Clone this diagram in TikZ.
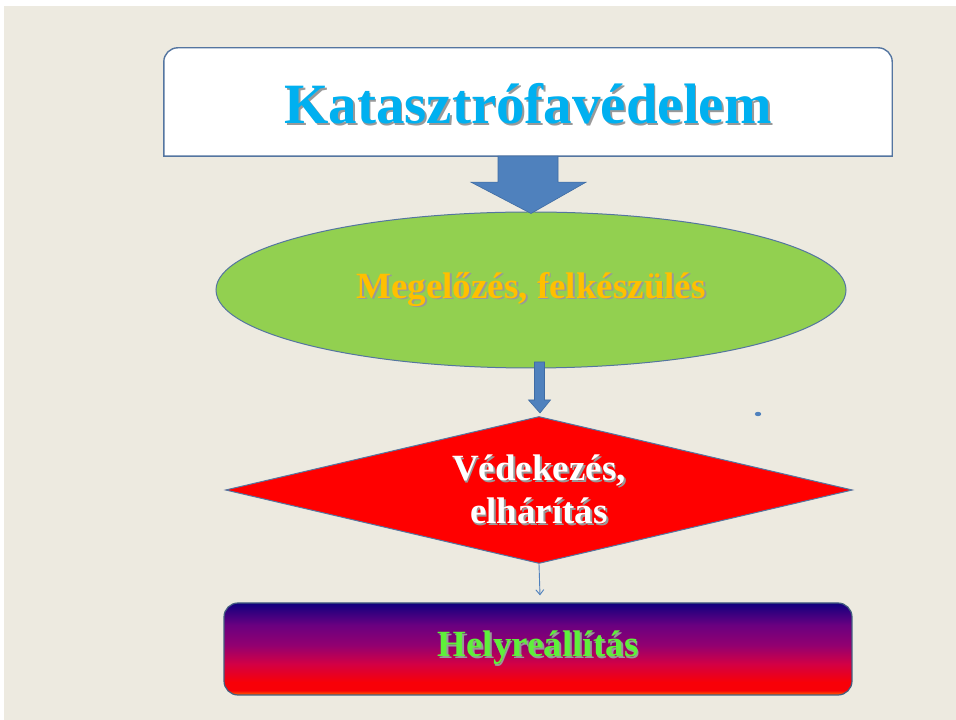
\documentclass[tikz,border=0pt]{standalone}
\usepackage{fontspec}
\setmainfont{Liberation Serif}
\usetikzlibrary{shapes.geometric,arrows.meta,calc}
\definecolor{bgbeige}{HTML}{EDEAE0}
\definecolor{boxline}{HTML}{5475A0}
\definecolor{titlecyan}{HTML}{00B0F0}
\definecolor{ellgreen}{HTML}{92D050}
\definecolor{goldtxt}{HTML}{FFC000}
\definecolor{arrblue}{HTML}{4F81BD}
\definecolor{arrdark}{HTML}{3F6CA3}
\definecolor{helygreen}{HTML}{5EF03A}
\definecolor{gnavy}{HTML}{10007F}
\definecolor{gpurp}{HTML}{6A0080}
\definecolor{gmag}{HTML}{930070}
\definecolor{gcrim}{HTML}{D20045}
\definecolor{gred}{HTML}{F80008}
\definecolor{gorange}{HTML}{FF6A00}
\pgfdeclareverticalshading{helyshade}{100bp}{color(0bp)=(gorange); color(25bp)=(gorange); color(27.5bp)=(gred); color(32bp)=(gred); color(42bp)=(gcrim); color(52bp)=(gmag); color(63bp)=(gpurp); color(75bp)=(gnavy); color(100bp)=(gnavy)}
\newcommand{\shtx}[2]{\makebox[0pt][l]{\kern1.8pt\raisebox{-1.8pt}{\textcolor{black!40}{#2}}}\textcolor{#1}{#2}}
\tikzset{
  outline/.style={draw=boxline, line width=1.4pt},
  blockarrow/.style={fill=arrblue, draw=arrdark, line width=0.6pt, line join=miter},
  bigtext/.style={font=\fontsize{37}{45}\selectfont\bfseries, align=center}
}
\begin{document}
\begin{tikzpicture}[x=1pt,y=1pt]
\useasboundingbox (0,0) rectangle (956,720);
\fill[white] (0,0) rectangle (956,720);
\fill[bgbeige] (4,0) rectangle (956,714);
% title box
\node[minimum width=728pt, minimum height=108pt, inner sep=0pt] (top) at (528,618) {};
\fill[white] (top.south west) -- ($(top.north west)+(0,-14)$) arc[start angle=180,end angle=90,radius=14]
  -- ($(top.north east)+(-14,0)$) arc[start angle=90,end angle=0,radius=14] -- (top.south east) -- cycle;
\draw[outline] (top.south west) -- ($(top.north west)+(0,-14)$) arc[start angle=180,end angle=90,radius=14]
  -- ($(top.north east)+(-14,0)$) arc[start angle=90,end angle=0,radius=14] -- (top.south east) -- cycle;
\node[font=\fontsize{57}{60}\selectfont\bfseries] (toptext) at (528,615) {\shtx{titlecyan}{Katasztrófavédelem}};
% ellipse
\node[ellipse, fill=ellgreen, draw=boxline, line width=1pt, minimum width=630pt, minimum height=156pt, inner sep=0pt, bigtext] (ell) at (531,430) {\shtx{goldtxt}{Megelőzés, felkészülés}};
% diamond
\node[diamond, aspect=4.27, fill=red, draw=boxline, line width=1pt, minimum width=627pt, minimum height=147pt, inner sep=0pt, bigtext] (dia) at (539,230) {\shtx{white}{Védekezés,}\\[-2pt]\shtx{white}{elhárítás}};
% bottom box
\node[rounded corners=14pt, shading=helyshade, draw=boxline!80!black, line width=1.2pt, minimum width=628pt, minimum height=92pt, inner sep=0pt, bigtext] (hely) at (538,71) {\shtx{helygreen}{Helyreállítás}};
% big block arrow (top box -> ellipse)
\draw[blockarrow] ($(top.south)+(-30,0)$) -- ($(top.south)+(-30,-26)$) -- ($(top.south)+(-57,-26)$)
  -- ($(ell.north)+(0,-2)$) -- ($(top.south)+(58,-26)$) -- ($(top.south)+(30,-26)$) -- ($(top.south)+(30,0)$) -- cycle;
% small block arrow (ellipse -> diamond)
\draw[blockarrow] ($(dia.north)+(-4.5,54)$) -- ($(dia.north)+(-4.5,16)$) -- ($(dia.north)+(-10.5,16)$)
  -- ($(dia.north)+(1,3)$) -- ($(dia.north)+(11.5,16)$) -- ($(dia.north)+(5.5,16)$) -- ($(dia.north)+(5.5,54)$) -- cycle;
% thin arrow (diamond -> bottom box)
\draw[arrblue, line width=0.9pt, -{Straight Barb[length=5pt,width=8pt]}] (dia.south) -- ($(hely.north)+(2,7)$);
% small dot
\fill[arrblue] (758,306) ellipse (3.2 and 2.2);
\end{tikzpicture}
\end{document}
